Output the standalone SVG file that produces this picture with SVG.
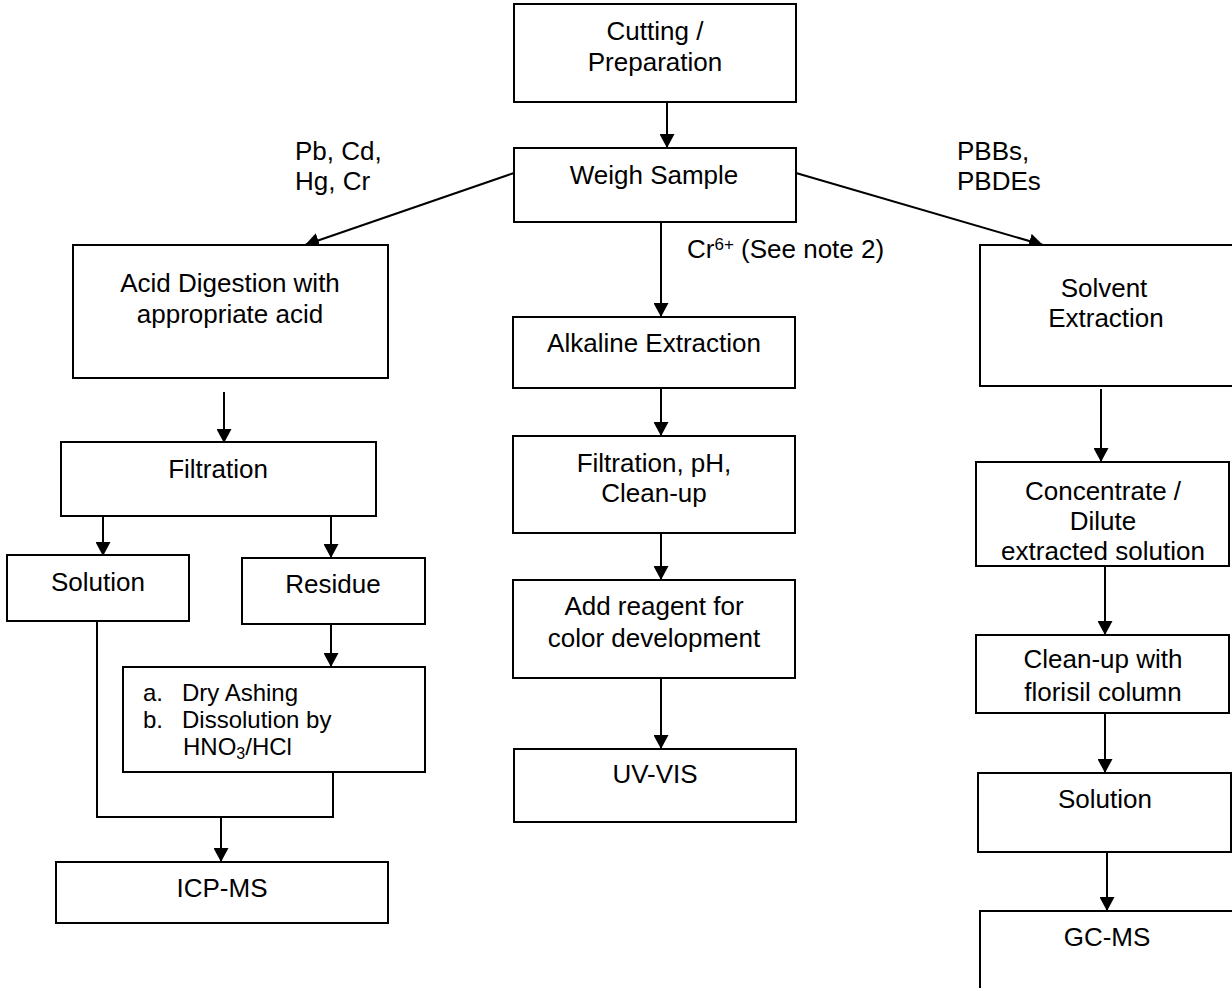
<svg xmlns="http://www.w3.org/2000/svg" width="1232" height="988" viewBox="0 0 1232 988">
<style>
.box{fill:#fff;stroke:#000;stroke-width:2}
.t{font-family:"Liberation Sans",Arial,sans-serif;font-size:26px;fill:#000;text-anchor:middle}
.l{font-family:"Liberation Sans",Arial,sans-serif;font-size:26px;fill:#000}
.s{font-family:"Liberation Sans",Arial,sans-serif;font-size:24px;fill:#000}
.c{fill:none;stroke:#000;stroke-width:2}
</style>
<defs>
<marker id="ah" viewBox="0 0 14 15" refX="14" refY="7.5" markerWidth="14" markerHeight="15" markerUnits="userSpaceOnUse" orient="auto">
<path d="M0,0 L14,7.5 L0,15 z" fill="#000"/>
</marker>
</defs>
<rect width="1232" height="988" fill="#fff"/>

<g id="connectors">
<line class="c" x1="667" y1="102" x2="667" y2="148" marker-end="url(#ah)"/>
<line class="c" x1="514" y1="173" x2="305" y2="245" marker-end="url(#ah)"/>
<line class="c" x1="661" y1="222" x2="661" y2="317" marker-end="url(#ah)"/>
<line class="c" x1="796" y1="173" x2="1043" y2="245" marker-end="url(#ah)"/>
<line class="c" x1="224" y1="392" x2="224" y2="443" marker-end="url(#ah)"/>
<line class="c" x1="103" y1="516" x2="103" y2="556" marker-end="url(#ah)"/>
<line class="c" x1="331" y1="516" x2="331" y2="558" marker-end="url(#ah)"/>
<line class="c" x1="331" y1="624" x2="331" y2="667" marker-end="url(#ah)"/>
<polyline class="c" points="97,621 97,817 333,817 333,772"/>
<line class="c" x1="221" y1="817" x2="221" y2="862" marker-end="url(#ah)"/>
<line class="c" x1="661" y1="388" x2="661" y2="436" marker-end="url(#ah)"/>
<line class="c" x1="661" y1="533" x2="661" y2="580" marker-end="url(#ah)"/>
<line class="c" x1="661" y1="678" x2="661" y2="749" marker-end="url(#ah)"/>
<line class="c" x1="1101" y1="389" x2="1101" y2="462" marker-end="url(#ah)"/>
<line class="c" x1="1105" y1="566" x2="1105" y2="635" marker-end="url(#ah)"/>
<line class="c" x1="1105" y1="713" x2="1105" y2="773" marker-end="url(#ah)"/>
<line class="c" x1="1107" y1="852" x2="1107" y2="911" marker-end="url(#ah)"/>
</g>

<g id="labels">
<text class="l" x="295" y="160">Pb, Cd,</text>
<text class="l" x="295" y="190">Hg, Cr</text>
<text class="l" x="957" y="160">PBBs,</text>
<text class="l" x="957" y="190">PBDEs</text>
<text class="l" x="687" y="258">Cr<tspan font-size="17" dy="-8">6+</tspan><tspan dy="8"> (See note 2)</tspan></text>
</g>

<g id="cutting">
<rect class="box" x="514" y="4" width="282" height="98"/>
<text class="t" x="655" y="40">Cutting /</text>
<text class="t" x="655" y="71">Preparation</text>
</g>
<g id="weigh">
<rect class="box" x="514" y="148" width="282" height="74"/>
<text class="t" x="654" y="184">Weigh Sample</text>
</g>
<g id="acid">
<rect class="box" x="73" y="245" width="315" height="133"/>
<text class="t" x="230" y="292">Acid Digestion with</text>
<text class="t" x="230" y="323">appropriate acid</text>
</g>
<g id="filtration">
<rect class="box" x="61" y="442" width="315" height="74"/>
<text class="t" x="218" y="478">Filtration</text>
</g>
<g id="solution-left">
<rect class="box" x="7" y="555" width="182" height="66"/>
<text class="t" x="98" y="591">Solution</text>
</g>
<g id="residue">
<rect class="box" x="242" y="558" width="183" height="66"/>
<text class="t" x="333" y="593">Residue</text>
</g>
<g id="dryashing">
<rect class="box" x="123" y="667" width="302" height="105"/>
<text class="s" x="143" y="701">a.</text>
<text class="s" x="182" y="701">Dry Ashing</text>
<text class="s" x="143" y="728">b.</text>
<text class="s" x="182" y="728">Dissolution by</text>
<text class="s" x="183" y="755">HNO<tspan font-size="16" dy="4">3</tspan><tspan dy="-4">/HCl</tspan></text>
</g>
<g id="icpms">
<rect class="box" x="56" y="862" width="332" height="61"/>
<text class="t" x="222" y="897">ICP-MS</text>
</g>
<g id="alkaline">
<rect class="box" x="513" y="317" width="282" height="71"/>
<text class="t" x="654" y="352">Alkaline Extraction</text>
</g>
<g id="filtph">
<rect class="box" x="513" y="436" width="282" height="97"/>
<text class="t" x="654" y="472">Filtration, pH,</text>
<text class="t" x="654" y="502">Clean-up</text>
</g>
<g id="reagent">
<rect class="box" x="513" y="580" width="282" height="98"/>
<text class="t" x="654" y="615">Add reagent for</text>
<text class="t" x="654" y="647">color development</text>
</g>
<g id="uvvis">
<rect class="box" x="514" y="749" width="282" height="73"/>
<text class="t" x="655" y="783">UV-VIS</text>
</g>
<g id="solvent">
<rect class="box" x="980" y="245" width="262" height="141"/>
<text class="t" x="1104" y="297">Solvent</text>
<text class="t" x="1106" y="327">Extraction</text>
</g>
<g id="concentrate">
<rect class="box" x="976" y="462" width="253" height="104"/>
<text class="t" x="1103" y="500">Concentrate /</text>
<text class="t" x="1103" y="530">Dilute</text>
<text class="t" x="1103" y="560">extracted solution</text>
</g>
<g id="cleanup">
<rect class="box" x="976" y="635" width="253" height="78"/>
<text class="t" x="1103" y="668">Clean-up with</text>
<text class="t" x="1103" y="701">florisil column</text>
</g>
<g id="solution-right">
<rect class="box" x="978" y="773" width="253" height="79"/>
<text class="t" x="1105" y="808">Solution</text>
</g>
<g id="gcms">
<rect class="box" x="980" y="911" width="262" height="90"/>
<text class="t" x="1107" y="946">GC-MS</text>
</g>
</svg>
